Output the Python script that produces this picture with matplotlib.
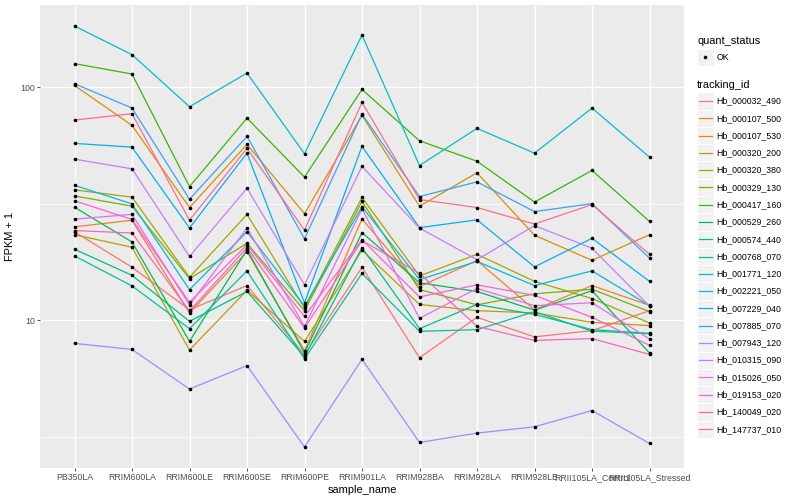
import matplotlib
matplotlib.use('Agg')
import matplotlib.pyplot as plt
from matplotlib.patches import Rectangle
import numpy as np

plt.rcParams['font.family'] = ['Liberation Sans', 'DejaVu Sans']

SAMPLES = ['PB350LA', 'RRIM600LA', 'RRIM600LE', 'RRIM600SE', 'RRIM600PE', 'RRIM901LA',
           'RRIM928BA', 'RRIM928LA', 'RRIM928LE', 'RRII105LA_Control', 'RRII105LA_Stressed']

TRACKING_IDS = ['Hb_000032_490', 'Hb_000107_500', 'Hb_000107_530', 'Hb_000320_200',
                'Hb_000320_380', 'Hb_000329_130', 'Hb_000417_160', 'Hb_000529_260',
                'Hb_000574_440', 'Hb_000768_070', 'Hb_001771_120', 'Hb_002221_050',
                'Hb_007229_040', 'Hb_007885_070', 'Hb_007943_120', 'Hb_010315_090',
                'Hb_015026_050', 'Hb_019153_020', 'Hb_140049_020', 'Hb_147737_010']

# ggplot hue palette for 20 levels
COLORS = ['#F8766D', '#EA8331', '#D89000', '#C09B00', '#A3A500', '#7CAE00', '#39B600',
          '#00BB4E', '#00BF7D', '#00C1A3', '#00BFC4', '#00BAE0', '#00B0F6', '#35A2FF',
          '#9590FF', '#C77CFF', '#E76BF3', '#FA62DB', '#FF62BC', '#FF6C91']

# FPKM + 1, one list per tracking id, one value per sample
hb_000032_490 = [24.0, 16.9, 11.1, 14.1, 7.12, 16.9, 6.91, 10.3, 8.49, 9.03, 11.0]
hb_000107_500 = [25.2, 26.9, 10.76, 19.7, 7.41, 27.2, 13.96, 18.06, 11.1, 14.1, 11.6]
hb_000107_530 = [102.0, 68.7, 30.5, 56.9, 28.7, 75.8, 30.9, 43.0, 23.2, 18.1, 23.3]
hb_000320_200 = [23.3, 20.6, 7.46, 13.45, 8.12, 20.0, 11.7, 11.0, 10.76, 9.8, 9.49]
hb_000320_380 = [36.3, 33.8, 15.3, 28.5, 11.3, 33.7, 15.5, 19.2, 14.7, 12.4, 9.74]
hb_000329_130 = [34.2, 30.9, 15.1, 21.4, 11.0, 32.4, 13.55, 11.65, 13.0, 13.6, 10.9]
hb_000417_160 = [126.5, 114.1, 37.5, 73.8, 41.2, 98.0, 59.0, 48.2, 32.2, 44.0, 26.6]
hb_000529_260 = [30.6, 21.7, 8.12, 20.1, 7.26, 23.8, 14.5, 13.3, 11.06, 13.4, 7.24]
hb_000574_440 = [20.2, 15.6, 9.9, 13.3, 6.98, 20.5, 9.21, 11.7, 10.6, 9.12, 8.79]
hb_000768_070 = [18.9, 14.05, 9.21, 16.3, 6.84, 15.9, 8.97, 9.12, 10.9, 8.98, 8.76]
hb_001771_120 = [183.4, 138.2, 82.6, 115.2, 51.9, 167.8, 46.2, 66.7, 52.2, 81.5, 50.2]
hb_002221_050 = [38.0, 31.6, 13.55, 24.0, 11.5, 30.7, 14.96, 17.9, 14.1, 16.3, 11.56]
hb_007229_040 = [57.5, 55.4, 24.9, 52.2, 11.9, 55.8, 25.0, 27.0, 16.96, 22.5, 14.7]
hb_007885_070 = [103.7, 81.5, 33.1, 61.6, 22.4, 76.8, 34.0, 39.3, 29.3, 31.7, 18.5]
hb_007943_120 = [7.96, 7.5, 5.07, 6.39, 2.86, 6.80, 2.99, 3.28, 3.49, 4.10, 2.96]
hb_010315_090 = [49.2, 44.7, 18.8, 36.9, 14.2, 45.8, 24.9, 18.2, 25.5, 20.4, 11.5]
hb_015026_050 = [27.2, 28.5, 11.65, 24.9, 9.42, 30.1, 10.2, 13.7, 11.56, 11.9, 8.32]
hb_019153_020 = [32.6, 27.1, 11.95, 21.1, 10.4, 22.2, 12.6, 14.2, 12.8, 10.3, 7.81]
hb_140049_020 = [24.3, 23.7, 10.97, 20.5, 9.27, 22.0, 15.9, 9.42, 8.2, 8.35, 7.14]
hb_147737_010 = [72.4, 77.1, 26.9, 54.7, 24.4, 86.2, 33.0, 30.5, 25.9, 31.4, 19.2]

series = [hb_000032_490, hb_000107_500, hb_000107_530, hb_000320_200, hb_000320_380,
          hb_000329_130, hb_000417_160, hb_000529_260, hb_000574_440, hb_000768_070,
          hb_001771_120, hb_002221_050, hb_007229_040, hb_007885_070, hb_007943_120,
          hb_010315_090, hb_015026_050, hb_019153_020, hb_140049_020, hb_147737_010]

W, H = 800, 500
fig = plt.figure(figsize=(8, 5), dpi=100)
ax = fig.add_axes([40 / W, 1 - 468 / H, (684 - 40) / W, (468 - 5) / H])
ax.set_facecolor('#EBEBEB')
for s in ax.spines.values():
    s.set_visible(False)

x = np.arange(len(SAMPLES))
for vals, col in zip(series, COLORS):
    ax.plot(x, vals, color=col, lw=0.9, zorder=3)
for vals in series:
    ax.plot(x, vals, 'o', color='black', ms=2.6, mew=0, zorder=4)

ax.set_yscale('log')
allv = np.log10(np.concatenate([np.array(v) for v in series]))
span = allv.max() - allv.min()
ax.set_ylim(10 ** (allv.min() - 0.05 * span), 10 ** (allv.max() + 0.05 * span))
ax.set_xlim(-0.6, len(SAMPLES) - 0.4)

ax.set_yticks([10, 100])
ax.set_yticklabels(['10', '100'])
ax.set_yticks([10 ** 0.5, 10 ** 1.5], minor=True)
ax.yaxis.set_minor_formatter(plt.NullFormatter())
ax.set_xticks(x)
ax.set_xticklabels(SAMPLES)
ax.grid(which='major', color='white', lw=1.0, zorder=0)
ax.grid(which='minor', axis='y', color='white', lw=0.5, zorder=0)
ax.set_axisbelow(True)
ax.tick_params(which='major', length=2, width=0.6, color='#333333', labelcolor='#4D4D4D',
               labelsize=6.3, pad=1.5)
ax.tick_params(which='minor', length=0)
ax.set_xlabel('sample_name', fontsize=7.9, labelpad=2)
ax.set_ylabel('FPKM + 1', fontsize=7.9, labelpad=4)

# legend drawn in pixel coordinates on an overlay axes
lax = fig.add_axes([0, 0, 1, 1])
lax.set_xlim(0, W)
lax.set_ylim(H, 0)
lax.axis('off')

kx, kw = 697, 16.5
lax.text(kx, 41, 'quant_status', fontsize=7.9, va='center', ha='left')
lax.add_patch(Rectangle((kx, 48.5), kw, 17, facecolor='#F2F2F2', edgecolor='white', lw=0.8))
lax.plot([kx + kw / 2], [57], 'o', color='black', ms=2.6, mew=0)
lax.text(kx + 19.5, 57, 'OK', fontsize=6.3, va='center', ha='left')

lax.text(kx, 84.5, 'tracking_id', fontsize=7.9, va='center', ha='left')
step = 17.28
for i, (name, col) in enumerate(zip(TRACKING_IDS, COLORS)):
    cy = 101 + i * step
    lax.add_patch(Rectangle((kx, cy - step / 2), kw, step, facecolor='#F2F2F2',
                            edgecolor='white', lw=0.8))
    lax.plot([kx + 1.7, kx + kw - 1.7], [cy, cy], color=col, lw=0.9)
    lax.text(kx + 19.5, cy, name, fontsize=6.3, va='center', ha='left')

fig.savefig('out.png', dpi=100)
